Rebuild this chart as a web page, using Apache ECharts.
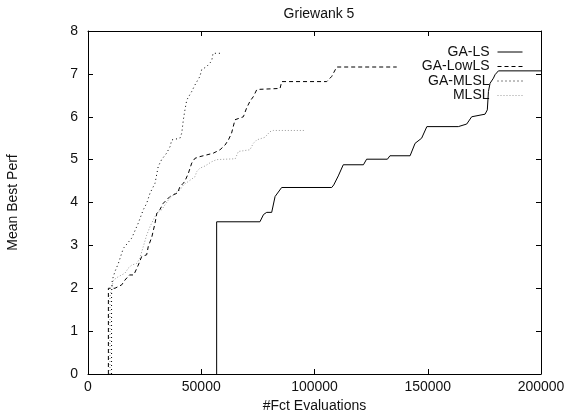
<!DOCTYPE html>
<html>
<head>
<meta charset="utf-8">
<script src="https://cdn.jsdelivr.net/npm/echarts@6/dist/echarts.min.js"></script>
<style>
html,body{margin:0;padding:0;background:#fff;}
#chart{width:565px;height:410px;}
</style>
</head>
<body>
<div id="chart"></div>
<script>
// ---- data ----
const seriesNames = ["GA-LS", "GA-LowLS", "GA-MLSL", "MLSL"];
const xTicks = [0, 50000, 100000, 150000, 200000];
const yTicks = [0, 1, 2, 3, 4, 5, 6, 7, 8];

const gaLsX = [56800, 56800, 75900, 77500, 78900, 81100, 82600, 85500, 107600, 108500, 110500, 112700, 121600, 123000, 132200, 133300, 142200, 144400, 147300, 149600, 163500, 167200, 169400, 170100, 175300, 176300, 176800, 177500, 179000, 179700, 181200, 200000];
const gaLsY = [0, 3.55, 3.55, 3.72, 3.77, 3.77, 4.14, 4.35, 4.35, 4.41, 4.62, 4.88, 4.88, 5.01, 5.01, 5.09, 5.09, 5.38, 5.5, 5.77, 5.77, 5.83, 6.0, 6.04, 6.06, 6.16, 6.59, 6.78, 6.9, 6.98, 7.07, 7.07];

const gaLowLsX = [9000, 9000, 11900, 13400, 14900, 16300, 18300, 20200, 22200, 23700, 24400, 25900, 26600, 28200, 29600, 30400, 31700, 33200, 34700, 36200, 37700, 39500, 40600, 42100, 42800, 44300, 45800, 47200, 49400, 52400, 55300, 58300, 60500, 62000, 63400, 64900, 65700, 68600, 70000, 71500, 73000, 74500, 75900, 84800, 85500, 105400, 107600, 109800, 136300];
const gaLowLsY = [0, 2.0, 2.0, 2.04, 2.08, 2.19, 2.31, 2.31, 2.54, 2.74, 2.78, 2.78, 2.97, 3.2, 3.52, 3.75, 3.83, 3.98, 4.06, 4.14, 4.18, 4.22, 4.37, 4.45, 4.5, 4.68, 4.92, 5.03, 5.07, 5.11, 5.15, 5.23, 5.34, 5.46, 5.62, 5.93, 5.97, 6.0, 6.2, 6.36, 6.47, 6.63, 6.64, 6.66, 6.82, 6.82, 6.94, 7.16, 7.16];

const gaMlslX = [10400, 10400, 10700, 11900, 13400, 15600, 19300, 22200, 24400, 25900, 27400, 29600, 31000, 32500, 34700, 36200, 37000, 40600, 41400, 42100, 42800, 43600, 45800, 47200, 49400, 50200, 52400, 54600, 55200, 58300];
const gaMlslY = [0, 1.85, 2.19, 2.39, 2.58, 2.93, 3.17, 3.52, 3.83, 3.98, 4.22, 4.45, 4.84, 5.0, 5.15, 5.3, 5.46, 5.5, 5.62, 5.93, 6.16, 6.39, 6.59, 6.74, 6.94, 7.1, 7.17, 7.3, 7.48, 7.48];

const mlslX = [9700, 9700, 11200, 13400, 16300, 17800, 19300, 21500, 22900, 24400, 25900, 27400, 28800, 30400, 32500, 35500, 38400, 40600, 42100, 44300, 47200, 48000, 49400, 51600, 54600, 56800, 65000, 66400, 71500, 73000, 74500, 78100, 80300, 81800, 95800];
const mlslY = [0, 1.8, 2.19, 2.27, 2.35, 2.47, 2.54, 2.58, 2.70, 2.97, 3.24, 3.44, 3.59, 3.75, 3.83, 4.06, 4.22, 4.29, 4.41, 4.49, 4.6, 4.72, 4.80, 4.85, 4.95, 5.0, 5.02, 5.19, 5.23, 5.38, 5.46, 5.52, 5.65, 5.68, 5.68];

// ---- build ----
function pairs(xs, ys) { return xs.map((x, i) => [x, ys[i]]); }
const font = "'Liberation Sans', Arial, sans-serif";
const txt = '#111';

const styles = [
  {color: '#000', type: 'solid', width: 1},
  {color: '#000', type: [4, 3], width: 1},
  {color: '#000', type: [1, 3], width: 1},
  {color: '#9a9a9a', type: [1, 2], width: 1}
];
const datas = [pairs(gaLsX, gaLsY), pairs(gaLowLsX, gaLowLsY), pairs(gaMlslX, gaMlslY), pairs(mlslX, mlslY)];

const chart = echarts.init(document.getElementById('chart'), null, {renderer: 'canvas'});
const xMin = xTicks[0], xMax = xTicks[xTicks.length - 1];
const yMin = yTicks[0], yMax = yTicks[yTicks.length - 1];
const xInt = xTicks[1] - xTicks[0], yInt = yTicks[1] - yTicks[0];

const baseAxis = {
  axisLine: {show: true, onZero: false, lineStyle: {color: '#000', width: 1}},
  axisTick: {show: true, inside: true, length: 5, lineStyle: {color: '#000'}},
  splitLine: {show: false}
};

chart.setOption({
  backgroundColor: '#fff',
  animation: false,
  title: {
    text: 'Griewank 5', left: 314, top: 2, textAlign: 'center',
    textStyle: {fontFamily: font, fontSize: 14, fontWeight: 'normal', color: txt}
  },
  grid: {left: 88, right: 24, top: 31, bottom: 36, containLabel: false, outerBoundsMode: 'none'},
  legend: {
    data: seriesNames,
    orient: 'vertical', right: 37, top: 40, align: 'right',
    itemWidth: 25, itemHeight: 10, itemGap: 0.5,
    itemStyle: {color: 'transparent', borderWidth: 0, opacity: 0},
    lineStyle: {width: 1},
    textStyle: {fontFamily: font, fontSize: 14, lineHeight: 14, color: txt, padding: [0, 3, 0, 0]},
    backgroundColor: 'transparent'
  },
  xAxis: [
    Object.assign({}, baseAxis, {
      type: 'value', min: xMin, max: xMax, interval: xInt, position: 'bottom',
      name: '#Fct Evaluations', nameLocation: 'middle', nameGap: 20,
      nameTextStyle: {fontFamily: font, fontSize: 14, color: txt},
      axisLabel: {fontFamily: font, fontSize: 14, color: txt, margin: 6, formatter: v => String(v)}
    }),
    Object.assign({}, baseAxis, {
      type: 'value', min: xMin, max: xMax, interval: xInt, position: 'top',
      axisLabel: {show: false}
    })
  ],
  yAxis: [
    Object.assign({}, baseAxis, {
      type: 'value', min: yMin, max: yMax, interval: yInt, position: 'left',
      name: 'Mean Best Perf', nameLocation: 'middle', nameGap: 68, nameRotate: 90,
      nameTextStyle: {fontFamily: font, fontSize: 14, color: txt},
      axisLabel: {fontFamily: font, fontSize: 14, color: txt, margin: 10, formatter: v => String(v)}
    }),
    Object.assign({}, baseAxis, {
      type: 'value', min: yMin, max: yMax, interval: yInt, position: 'right',
      axisLabel: {show: false}
    })
  ],
  series: seriesNames.map((n, i) => ({
    name: n, type: 'line', data: datas[i], showSymbol: false, symbol: 'none',
    xAxisIndex: 0, yAxisIndex: 0,
    lineStyle: styles[i], itemStyle: {color: styles[i].color},
    z: 10 - i
  }))
});
</script>
</body>
</html>
